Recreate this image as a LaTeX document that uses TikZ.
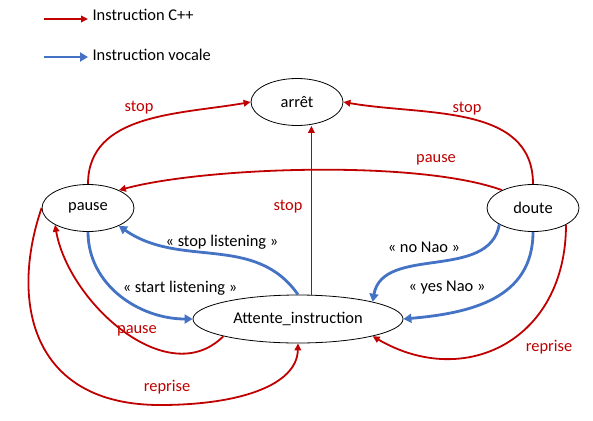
\documentclass[tikz,border=0pt]{standalone}
\usepackage{fontspec}
\setmainfont{Carlito}
\usetikzlibrary{shapes.geometric,arrows.meta}
\definecolor{cppred}{HTML}{C00000}
\definecolor{vocblue}{HTML}{4472C4}

\begin{document}
\begin{tikzpicture}[x=1pt,y=1pt,font=\fontsize{16.4}{19}\selectfont,
    etat/.style={ellipse,draw=black,line width=0.8pt,minimum width=92pt,minimum height=47pt,inner sep=0pt},
    cpp/.style={draw=cppred,line width=1.8pt,-{Triangle[length=7pt,width=6.5pt]}},
    voc/.style={draw=vocblue,line width=2.8pt,-{Triangle[length=8pt,width=9pt]}},
    lbl/.style={text=cppred}]
\useasboundingbox (0,0) rectangle (593,-420);
    % legende
    \coordinate (cppA) at (44,-19);
    \coordinate (cppB) at (88,-19);
    \coordinate (vocA) at (44,-57);
    \coordinate (vocB) at (88,-57);
    \draw[cpp] (cppA) -- (cppB);
    \draw[voc] (vocA) -- (vocB);
    \node[anchor=base west] (cppTxt) at (89,-21) {Instruction C++};
    \node[anchor=base west] (vocTxt) at (89,-60) {Instruction vocale};
    % etats
    \node[etat] (arret) at (297,-102) {arrêt};
    \node[etat] (pause) at (88,-208) {pause};
    \node[etat] (doute) at (533,-208) {doute};
    \node[etat,minimum width=210pt,minimum height=48pt] (att) at (298,-319) {Attente\_instruction};
    % transitions C++
    \draw[cpp] (pause.north) to[out=90,in=190] (arret.west);
    \draw[cpp] (doute.north) to[out=90,in=-10] (arret.east);
    \draw[cpp] (att.61) -- (att.61 |- arret.south);
    \draw[cpp] (doute.150) to[out=160,in=15,looseness=0.6] (pause.30);
    \draw[cpp] (att.193) to[out=225,in=-80] (pause.207);
    \draw[cpp] (pause.west) .. controls (10,-300) and (30,-405) .. (160,-405)
        .. controls (240,-405) and (297,-385) .. (att.south);
    \draw[cpp] (doute.-27) .. controls (566,-340) and (465,-390) .. (att.-13);
    % transitions vocales
    \draw[voc] (att.north) to[out=125,in=-35] (pause.-30);
    \draw[voc] (pause.south) to[out=-90,in=180] (att.west);
    \draw[voc] (doute.206) to[out=-100,in=80] (att.13);
    \draw[voc] (doute.south) to[out=-90,in=5,looseness=1.1] (att.east);
    % etiquettes
    \node[lbl] (stopG) at (139,-108) {stop};
    \node[lbl] (stopD) at (467,-109) {stop};
    \node[lbl] (stopM) at (288,-207) {stop};
    \node[lbl] (pauseH) at (436,-160) {pause};
    \node (stopLi) at (222,-242) {« stop listening »};
    \node (startLi) at (180,-288) {« start listening »};
    \node[lbl] (pauseB) at (137,-331) {pause};
    \node[lbl] (repriseG) at (167,-387) {reprise};
    \node (noNao) at (424,-247) {« no Nao »};
    \node (yesNao) at (447,-288) {« yes Nao »};
    \node[lbl] (repriseD) at (549,-347) {reprise};
\end{tikzpicture}
\end{document}
